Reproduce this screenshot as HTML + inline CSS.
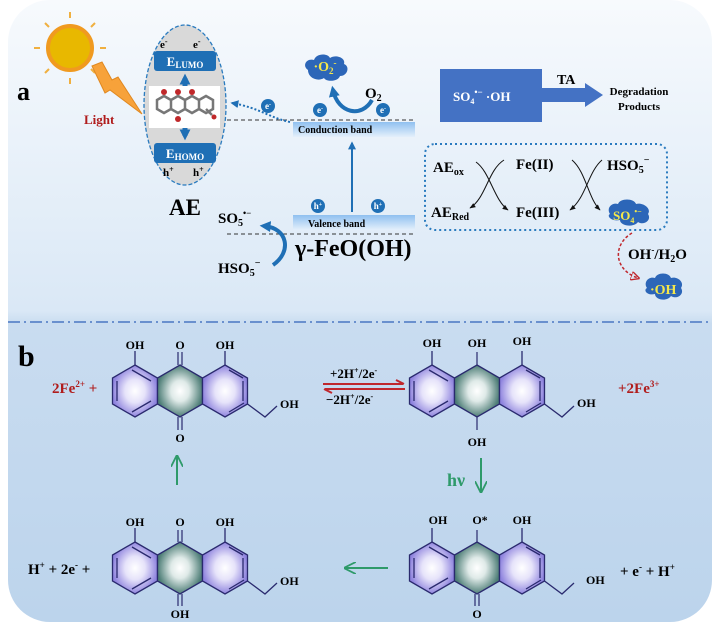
<!DOCTYPE html>
<html><head><meta charset="utf-8"><style>
html,body{margin:0;padding:0;background:#fff;width:720px;height:631px;overflow:hidden}
svg{display:block;font-family:"Liberation Serif",serif;font-weight:bold}
</style></head><body>
<svg width="720" height="631" viewBox="0 0 720 631" xmlns="http://www.w3.org/2000/svg">
<defs>
<linearGradient id="bg" x1="0" y1="0" x2="0" y2="1">
<stop offset="0" stop-color="#f7fafd"/><stop offset="0.5" stop-color="#dae8f6"/>
<stop offset="0.52" stop-color="#c9dcf0"/><stop offset="1" stop-color="#bcd4ec"/></linearGradient>
<radialGradient id="lav"><stop offset="0" stop-color="#fff"/><stop offset="0.45" stop-color="#e6e3fa"/><stop offset="1" stop-color="#8f84de"/></radialGradient>
<radialGradient id="teal"><stop offset="0" stop-color="#fff"/><stop offset="0.4" stop-color="#dfeae8"/><stop offset="1" stop-color="#4d7d76"/></radialGradient>
<linearGradient id="band" x1="0" y1="0" x2="0" y2="1"><stop offset="0" stop-color="#8fc0f0"/><stop offset="1" stop-color="#e4f0fb"/></linearGradient>
<marker id="ab" viewBox="0 0 10 10" refX="6" refY="5" markerWidth="11" markerHeight="11" markerUnits="userSpaceOnUse" orient="auto"><path d="M0,0L10,5L0,10z" fill="#1f6fb5"/></marker>
<marker id="ab2" viewBox="0 0 10 10" refX="8" refY="5" markerWidth="8" markerHeight="8" markerUnits="userSpaceOnUse" orient="auto"><path d="M0,0L10,5L0,10z" fill="#1f6fb5"/></marker>
<marker id="ag" viewBox="0 0 10 10" refX="9" refY="5" markerWidth="12" markerHeight="12" markerUnits="userSpaceOnUse" orient="auto"><path d="M0,0L10,5L0,10" fill="none" stroke="#2e9a6a" stroke-width="1.5"/></marker>
<marker id="ak" viewBox="0 0 10 10" refX="9" refY="5" markerWidth="6" markerHeight="6" orient="auto"><path d="M0,1L10,5L0,9z" fill="#111"/></marker>
<marker id="ar" viewBox="0 0 10 10" refX="8" refY="5" markerWidth="6" markerHeight="6" orient="auto"><path d="M0,0L10,5L0,10z" fill="none" stroke="#c0272d" stroke-width="1.5"/></marker>
<g id="mol" stroke="#2a2a6e" stroke-width="1.3">
<polygon points="-45,-26 -22.5,-13 -22.5,13 -45,26 -67.5,13 -67.5,-13" fill="url(#lav)"/>
<polygon points="0,-26 22.5,-13 22.5,13 0,26 -22.5,13 -22.5,-13" fill="url(#teal)"/>
<polygon points="45,-26 67.5,-13 67.5,13 45,26 22.5,13 22.5,-13" fill="url(#lav)"/>
<path d="M-63,-10L-63,10 M-48,-21L-29,-10 M-48,21L-29,10 M49,-21L63,-13 M63,-10L63,10 M49,21L64,12" fill="none"/>
<path d="M-45,-26V-40 M45,-26V-40 M67.5,13L85,26L97,15" fill="none"/>
</g>
</defs>
<rect x="8" y="0" width="704" height="622" rx="42" fill="url(#bg)"/>
<line x1="8" y1="322" x2="712" y2="322" stroke="#4a76c2" stroke-width="1.5" stroke-dasharray="12,4,2,4"/>

<text x="17" y="100" font-size="26">a</text>
<g stroke="#f0b040" stroke-width="2">
<line x1="70" y1="18" x2="70" y2="12"/><line x1="70" y1="78" x2="70" y2="84"/><line x1="40" y1="48" x2="34" y2="48"/><line x1="100" y1="48" x2="106" y2="48"/>
<line x1="49" y1="27" x2="45" y2="23"/><line x1="91" y1="27" x2="95" y2="23"/><line x1="49" y1="69" x2="45" y2="73"/><line x1="91" y1="69" x2="95" y2="73"/>
</g>
<circle cx="70" cy="48" r="22" fill="#e8b800" stroke="#f09a20" stroke-width="4"/>
<polygon points="92,66 102,62 112,80 118,77 142,114 110,90 105,93" fill="#f7a23a" stroke="#e08820"/>
<text x="84" y="124" font-size="13" fill="#b01c1c">Light</text>

<ellipse cx="185" cy="105" rx="41" ry="80" fill="#d9d9d9" stroke="#2a7bbf" stroke-width="1.3" stroke-dasharray="4,2"/>
<text x="160" y="48" font-size="11">e<tspan dy="-4" font-size="8">-</tspan></text>
<text x="193" y="48" font-size="11">e<tspan dy="-4" font-size="8">-</tspan></text>
<rect x="154" y="51" width="62" height="20" rx="3" fill="#1f6fb5"/>
<text x="185" y="66" font-size="13" fill="#fff" text-anchor="middle">E<tspan font-size="9" dy="2">LUMO</tspan></text>
<rect x="154" y="143" width="62" height="20" rx="3" fill="#1f6fb5"/>
<text x="185" y="158" font-size="13" fill="#fff" text-anchor="middle">E<tspan font-size="9" dy="2">HOMO</tspan></text>
<text x="163" y="176" font-size="11">h<tspan dy="-4" font-size="8">+</tspan></text>
<text x="193" y="176" font-size="11">h<tspan dy="-4" font-size="8">+</tspan></text>
<path d="M185,86V78" stroke="#1f6fb5" stroke-width="5" marker-end="url(#ab)"/>
<path d="M185,128V136" stroke="#1f6fb5" stroke-width="5" marker-end="url(#ab)"/>
<rect x="149" y="86" width="71" height="42" fill="#fff"/>
<g stroke="#777" stroke-width="2.5" fill="none">
<path d="M157,100l7,-4l7,4l7,-4l7,4l7,-4l7,4l7,-4l7,4v9l-7,4l-7,-4l-7,4l-7,-4l-7,4l-7,-4l-7,4l-7,-4z M171,100v9 M185,100v9 M199,100v9 M206,109l6,6"/>
</g>
<g fill="#c0282a"><circle cx="164" cy="92" r="3"/><circle cx="178" cy="92" r="3"/><circle cx="192" cy="92" r="3"/><circle cx="178" cy="119" r="3"/><circle cx="214" cy="117" r="2.5"/></g>
<text x="185" y="215" font-size="23" text-anchor="middle">AE</text>

<line x1="227" y1="120" x2="415" y2="120" stroke="#333" stroke-dasharray="4,3"/>
<line x1="227" y1="234" x2="415" y2="234" stroke="#333" stroke-dasharray="4,3"/>
<rect x="293" y="122" width="122" height="15" fill="url(#band)"/>
<text x="298" y="133" font-size="10">Conduction   band</text>
<rect x="293" y="215" width="122" height="15" fill="url(#band)"/>
<text x="308" y="227" font-size="10">Valence       band</text>
<text x="295" y="256" font-size="24">γ-FeO(OH)</text>
<path d="M352,212V143" stroke="#1f6fb5" stroke-width="2" marker-end="url(#ab2)"/>
<g fill="#1f6fb5"><circle cx="320" cy="110" r="7"/><circle cx="383" cy="110" r="7"/><circle cx="268" cy="106" r="7"/><circle cx="318" cy="206" r="7"/><circle cx="378" cy="206" r="7"/></g>
<g fill="#fff" font-size="9" text-anchor="middle"><text x="320" y="113">e<tspan dy="-3" font-size="6">-</tspan></text><text x="383" y="113">e<tspan dy="-3" font-size="6">-</tspan></text><text x="268" y="109">e<tspan dy="-3" font-size="6">-</tspan></text><text x="318" y="209">h<tspan dy="-3" font-size="6">+</tspan></text><text x="378" y="209">h<tspan dy="-3" font-size="6">+</tspan></text></g>
<path d="M290,122C270,118 260,108 232,103" stroke="#1f6fb5" stroke-width="2" stroke-dasharray="2,2" fill="none" marker-end="url(#ab2)"/>
<text x="365" y="98" font-size="15">O<tspan font-size="10" dy="3">2</tspan></text>
<path d="M372,100C362,118 338,114 333,90" stroke="#1f6fb5" stroke-width="4" fill="none" marker-end="url(#ab)"/>
<path d="M308,70c-6,-4 -2,-12 6,-10c2,-7 14,-7 16,-2c6,-4 16,0 14,6c6,2 4,12 -4,12c-2,6 -14,6 -16,2c-6,4 -16,0 -16,-8z" fill="#2c66b8"/>
<text x="325" y="71" font-size="14" fill="#f5e84a" text-anchor="middle">·O<tspan font-size="9" dy="3">2</tspan><tspan font-size="9" dy="-8">-</tspan></text>
<text x="218" y="223" font-size="15">SO<tspan font-size="10" dy="3">5</tspan><tspan font-size="9" dy="-10">•−</tspan></text>
<text x="218" y="273" font-size="15">HSO<tspan font-size="10" dy="3">5</tspan><tspan font-size="10" dy="-10">−</tspan></text>
<path d="M273,265C292,252 288,228 264,226" stroke="#1f6fb5" stroke-width="4" fill="none" marker-end="url(#ab)"/>

<rect x="440" y="69" width="102" height="53" fill="#4472c4"/>
<text x="453" y="101" font-size="13" fill="#fff">SO<tspan font-size="8" dy="3">4</tspan><tspan font-size="9" dy="-9">•−</tspan><tspan dy="6">  ·OH</tspan></text>
<polygon points="542,88 585,88 585,83 603,95 585,107 585,102 542,102" fill="#4472c4"/>
<text x="557" y="84" font-size="14">TA</text>
<text x="639" y="95" font-size="11" text-anchor="middle">Degradation</text>
<text x="639" y="110" font-size="11" text-anchor="middle">Products</text>

<rect x="425" y="144" width="242" height="86" rx="10" fill="none" stroke="#2a7bbf" stroke-width="2" stroke-dasharray="2,3"/>
<text x="433" y="172" font-size="15">AE<tspan font-size="10" dy="3">ox</tspan></text>
<text x="431" y="217" font-size="15">AE<tspan font-size="10" dy="3">Red</tspan></text>
<text x="516" y="169" font-size="15">Fe(II)</text>
<text x="516" y="217" font-size="15">Fe(III)</text>
<text x="607" y="170" font-size="15">HSO<tspan font-size="10" dy="3">5</tspan><tspan font-size="10" dy="-10">−</tspan></text>
<path d="M476,162C490,172 494,200 508,210" stroke="#111" fill="none" marker-end="url(#ak)"/>
<path d="M504,160C488,170 486,198 470,208" stroke="#111" fill="none" marker-end="url(#ak)"/>
<path d="M572,160C586,172 588,198 600,210" stroke="#111" fill="none" marker-end="url(#ak)"/>
<path d="M602,160C588,172 586,198 570,210" stroke="#111" fill="none" marker-end="url(#ak)"/>
<path d="M610,214c-4,-6 2,-12 8,-10c2,-6 16,-6 18,0c6,-2 16,4 12,10c4,6 -4,12 -10,8c-4,6 -18,4 -18,-2c-8,2 -14,-4 -10,-6z" fill="#2c66b8"/>
<text x="613" y="220" font-size="13" fill="#f5e84a">SO<tspan font-size="8" dy="3">4</tspan><tspan font-size="8" dy="-9">•−</tspan></text>
<path d="M632,233C612,245 614,270 638,278" stroke="#c0272d" stroke-width="1.5" stroke-dasharray="3,2" fill="none" marker-end="url(#ar)"/>
<text x="628" y="259" font-size="15">OH<tspan font-size="9" dy="-6">-</tspan><tspan dy="6">/H</tspan><tspan font-size="10" dy="3">2</tspan><tspan dy="-3">O</tspan></text>
<path d="M647,288c-4,-6 2,-12 8,-10c2,-6 14,-6 16,0c6,-2 14,4 10,10c4,6 -4,12 -10,8c-4,6 -16,4 -16,-2c-8,2 -12,-4 -8,-6z" fill="#2c66b8"/>
<text x="650" y="294" font-size="14" fill="#f5e84a">·OH</text>

<text x="18" y="366" font-size="30">b</text>
<g font-size="12">
<use href="#mol" x="180" y="391"/>
<path d="M178,365V352 M182,365V352 M178,417V430 M182,417V430" stroke="#2a2a6e" stroke-width="1.2"/>
<text x="135" y="349" text-anchor="middle">OH</text><text x="180" y="349" text-anchor="middle">O</text><text x="225" y="349" text-anchor="middle">OH</text>
<text x="180" y="442" text-anchor="middle">O</text><text x="280" y="408">OH</text>
<text x="52" y="393" font-size="15" fill="#b01c1c">2Fe<tspan font-size="9" dy="-6">2+</tspan><tspan dy="6"> +</tspan></text>

<use href="#mol" x="477" y="391"/>
<path d="M477,365V352 M477,417V430" stroke="#2a2a6e" stroke-width="1.2"/>
<text x="432" y="347" text-anchor="middle">OH</text><text x="477" y="347" text-anchor="middle">OH</text><text x="522" y="345" text-anchor="middle">OH</text>
<text x="477" y="446" text-anchor="middle">OH</text><text x="577" y="407">OH</text>
<text x="618" y="393" font-size="15" fill="#b01c1c">+2Fe<tspan font-size="9" dy="-6">3+</tspan></text>

<use href="#mol" x="477" y="568"/>
<path d="M477,542V530 M475,594V606 M479,594V606" stroke="#2a2a6e" stroke-width="1.2"/>
<text x="438" y="524" text-anchor="middle">OH</text><text x="480" y="524" text-anchor="middle">O*</text><text x="522" y="524" text-anchor="middle">OH</text>
<text x="477" y="618" text-anchor="middle">O</text><text x="586" y="584">OH</text>
<text x="620" y="576" font-size="15">+ e<tspan font-size="9" dy="-6">-</tspan><tspan dy="6"> + H</tspan><tspan font-size="9" dy="-6">+</tspan></text>

<use href="#mol" x="180" y="568"/>
<path d="M178,542V530 M182,542V530 M178,594V606 M182,594V606" stroke="#2a2a6e" stroke-width="1.2"/>
<text x="135" y="526" text-anchor="middle">OH</text><text x="180" y="526" text-anchor="middle">O</text><text x="225" y="526" text-anchor="middle">OH</text>
<text x="180" y="618" text-anchor="middle">OH</text><text x="280" y="585">OH</text>
<text x="28" y="574" font-size="15">H<tspan font-size="9" dy="-6">+</tspan><tspan dy="6"> + 2e</tspan><tspan font-size="9" dy="-6">-</tspan><tspan dy="6"> +</tspan></text>
</g>
<text x="330" y="378" font-size="13">+2H<tspan font-size="8" dy="-5">+</tspan><tspan dy="5">/2e</tspan><tspan font-size="8" dy="-5">-</tspan></text>
<text x="326" y="404" font-size="13">−2H<tspan font-size="8" dy="-5">+</tspan><tspan dy="5">/2e</tspan><tspan font-size="8" dy="-5">-</tspan></text>
<path d="M323,384H403 M396,380L404,384" stroke="#c0272d" stroke-width="2" fill="none"/>
<path d="M405,389H325 M332,393L324,389" stroke="#c0272d" stroke-width="2" fill="none"/>
<text x="447" y="486" font-size="18" fill="#2e9a6a">hν</text>
<path d="M481,458V492" stroke="#2e9a6a" stroke-width="2" marker-end="url(#ag)"/>
<path d="M177,485V456" stroke="#2e9a6a" stroke-width="2" marker-end="url(#ag)"/>
<path d="M388,568H345" stroke="#2e9a6a" stroke-width="2" marker-end="url(#ag)"/>
</svg>
</body></html>
